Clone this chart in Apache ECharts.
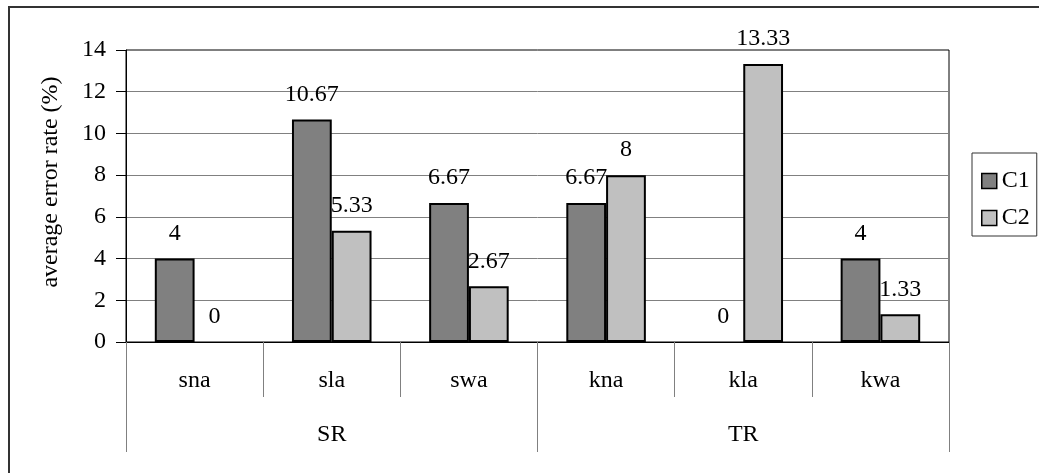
<!DOCTYPE html>
<html>
<head>
<meta charset="utf-8">
<script src="https://cdn.jsdelivr.net/npm/echarts@6/dist/echarts.min.js"></script>
<style>
  html, body { margin: 0; padding: 0; background: #fff; }
  #chart { width: 1039px; height: 473px; }
</style>
</head>
<body>
<div id="chart"></div>
<script>
// Task conditions (inner axis) and their groups (outer axis)
const conditions = ['sna', 'sla', 'swa', 'kna', 'kla', 'kwa'];
const groups = ['SR', 'TR'];
const seriesNames = ['C1', 'C2'];
// Average error rate (%) per condition
const c1Values = [4, 10.67, 6.67, 6.67, 0, 4];
const c2Values = [0, 5.33, 2.67, 8, 13.33, 1.33];
const yTicks = { min: 0, max: 14, step: 2 };
const yTitle = 'average error rate (%)';

const FONT = '"Liberation Serif", "DejaVu Serif", serif';
const FS = 24;
const chart = echarts.init(document.getElementById('chart'), null, { renderer: 'canvas' });

const labelStyle = {
  show: true,
  position: 'top',
  distance: 13,
  color: '#000',
  fontFamily: FONT,
  fontSize: FS,
  formatter: p => String(p.value)
};

// zero-height bars get no outline, only their value label
const toBarData = values => values.map(v => (v === 0 ? { value: v, itemStyle: { borderWidth: 0 } } : v));

chart.setOption({
  animation: false,
  backgroundColor: '#fff',
  textStyle: { fontFamily: FONT, color: '#000' },
  grid: {
    left: 126, right: 90, top: 50, bottom: 131,
    show: true, borderColor: '#000', borderWidth: 1, backgroundColor: 'transparent'
  },
  legend: {
    orient: 'vertical',
    left: 972, top: 153,
    padding: [16, 7, 6, 9],
    itemGap: 13,
    itemWidth: 15, itemHeight: 15,
    icon: 'rect',
    borderColor: '#333', borderWidth: 1,
    textStyle: { fontFamily: FONT, fontSize: FS, color: '#000' },
    itemStyle: { borderColor: '#000', borderWidth: 1.5 },
    data: seriesNames
  },
  xAxis: [
    {
      type: 'category',
      data: conditions,
      position: 'bottom',
      axisLine: { show: true, lineStyle: { color: '#000', width: 1 } },
      axisTick: { show: true, length: 55, interval: 0, lineStyle: { color: '#808080', width: 1 } },
      axisLabel: { margin: 27, interval: 0, fontFamily: FONT, fontSize: FS, color: '#000' },
      splitLine: { show: false }
    },
    {
      type: 'category',
      data: groups,
      position: 'bottom',
      axisLine: { show: false },
      axisTick: { show: true, length: 110, interval: 0, lineStyle: { color: '#808080', width: 1 } },
      axisLabel: { margin: 81, interval: 0, fontFamily: FONT, fontSize: FS, color: '#000' },
      splitLine: { show: false }
    }
  ],
  yAxis: {
    type: 'value',
    min: yTicks.min, max: yTicks.max, interval: yTicks.step,
    axisLine: { show: true, lineStyle: { color: '#000', width: 1 } },
    axisTick: { show: true, length: 10, lineStyle: { color: '#000' } },
    axisLabel: { margin: 20, fontFamily: FONT, fontSize: FS, color: '#000' },
    splitLine: { show: true, showMaxLine: false, lineStyle: { color: '#808080', width: 1 } }
  },
  graphic: [
    {
      type: 'rect',
      shape: { x: 9, y: 7, width: 1200, height: 700 },
      style: { fill: null, stroke: '#333', lineWidth: 2 },
      silent: true, z: 0
    },
    {
      type: 'text',
      x: 51, y: 182,
      rotation: Math.PI / 2,
      style: {
        text: yTitle,
        fontFamily: FONT, fontSize: FS, fill: '#000',
        align: 'center', verticalAlign: 'middle'
      },
      silent: true
    }
  ],
  series: [
    {
      name: seriesNames[0],
      type: 'bar',
      xAxisIndex: 0,
      data: toBarData(c1Values),
      barGap: '0%',
      barCategoryGap: '42%',
      itemStyle: { color: '#808080', borderColor: '#000', borderWidth: 2 },
      label: labelStyle
    },
    {
      name: seriesNames[1],
      type: 'bar',
      xAxisIndex: 0,
      data: toBarData(c2Values),
      barGap: '0%',
      barCategoryGap: '42%',
      itemStyle: { color: '#c0c0c0', borderColor: '#000', borderWidth: 2 },
      label: labelStyle
    }
  ]
});
</script>
</body>
</html>
